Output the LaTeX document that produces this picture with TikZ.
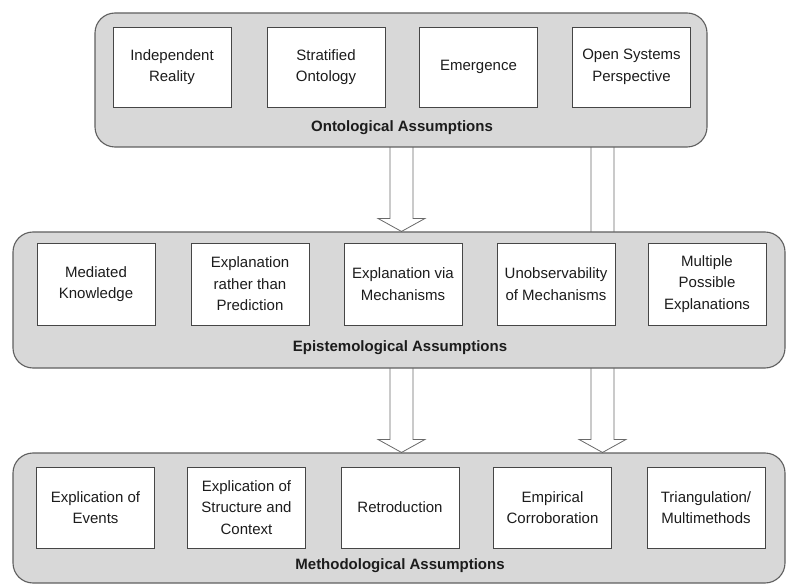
\documentclass[tikz,border=0pt]{standalone}
\usepackage{fontspec}
\setmainfont{Liberation Sans}
\usetikzlibrary{calc}
\pgfdeclarelayer{bg}
\pgfsetlayers{bg,main}

\definecolor{panelfill}{RGB}{216,216,216}
\definecolor{paneldraw}{RGB}{95,95,95}
\definecolor{boxdraw}{RGB}{70,70,70}
\definecolor{arrowdraw}{RGB}{105,105,105}
\definecolor{inktext}{RGB}{28,28,28}

\tikzset{
  panel/.style={draw=paneldraw, fill=panelfill, line width=1.1pt,
    rounded corners=20pt, inner sep=0pt},
  itembox/.style={draw=boxdraw, fill=white, line width=0.9pt,
    minimum width=118pt, align=center, text=inktext, inner sep=0pt,
    font=\fontsize{15}{21.5}\selectfont},
  panellabel/.style={text=inktext, font=\fontsize{15}{18}\selectfont\bfseries},
  arrowbody/.style={draw=arrowdraw, fill=white, line width=0.8pt, line join=miter}
}

% hollow block arrow pointing down from #1 to #2
\newcommand\hollowdown[2]{%
  \draw[arrowbody] ($(#1)+(-11.5,0)$) -- ($(#2)+(-11.5,-13)$)
    -- ($(#2)+(-23.5,-13)$) -- (#2) -- ($(#2)+(23.5,-13)$)
    -- ($(#2)+(11.5,-13)$) -- ($(#1)+(11.5,0)$);}

\begin{document}
\begin{tikzpicture}[x=1pt, y=-1pt]
\useasboundingbox (0,0) rectangle (787,585);

% the three layers of assumptions
\node[panel, minimum width=612pt, minimum height=134pt] (onto) at (401,80) {};
\node[panel, minimum width=772pt, minimum height=136pt] (epis) at (399,300) {};
\node[panel, minimum width=772pt, minimum height=130pt] (meth) at (399,518) {};

\node[panellabel] (ontolabel) at (402,128) {Ontological Assumptions};
\node[panellabel] (epislabel) at (400,348) {Epistemological Assumptions};
\node[panellabel] (methlabel) at (400,566) {Methodological Assumptions};

% ontological items
\node[itembox, minimum height=80pt] (o1) at (172,67) {Independent\\Reality};
\node[itembox, minimum height=80pt] (o2) at (326,67) {Stratified\\Ontology};
\node[itembox, minimum height=80pt] (o3) at (478.5,67) {Emergence};
\node[itembox, minimum height=80pt] (o4) at (631.5,67) {Open Systems\\Perspective};

% epistemological items
\node[itembox, minimum height=82pt] (e1) at (96,284) {Mediated\\Knowledge};
\node[itembox, minimum height=82pt] (e2) at (250,284) {Explanation\\rather than\\Prediction};
\node[itembox, minimum height=82pt] (e3) at (403,284) {Explanation via\\Mechanisms};
\node[itembox, minimum height=82pt] (e4) at (556,284) {Unobservability\\of Mechanisms};
\node[itembox, minimum height=82pt] (e5) at (707,284) {Multiple\\Possible\\Explanations};

% methodological items
\node[itembox, minimum height=81pt] (m1) at (95.5,507.5) {Explication of\\Events};
\node[itembox, minimum height=81pt] (m2) at (246.5,507.5) {Explication of\\Structure and\\Context};
\node[itembox, minimum height=81pt] (m3) at (400,507.5) {Retroduction};
\node[itembox, minimum height=81pt] (m4) at (552.5,507.5) {Empirical\\Corroboration};
\node[itembox, minimum height=81pt] (m5) at (706,507.5) {Triangulation/\\Multimethods};

% arrow anchors on the panel edges
\coordinate (a1s) at ($(401.5,0 |- onto.south)+(0,-6)$);
\coordinate (a1e) at (401.5,0 |- epis.north);
\coordinate (a2s) at ($(401.5,0 |- epis.south)+(0,-6)$);
\coordinate (a2e) at (401.5,0 |- meth.north);
\coordinate (a3s) at ($(602.5,0 |- onto.south)+(0,-6)$);
\coordinate (a3e) at (602.5,0 |- meth.north);

\begin{pgfonlayer}{bg}
  \hollowdown{a1s}{a1e}
  \hollowdown{a2s}{a2e}
  \hollowdown{a3s}{a3e}
\end{pgfonlayer}
\end{tikzpicture}
\end{document}
